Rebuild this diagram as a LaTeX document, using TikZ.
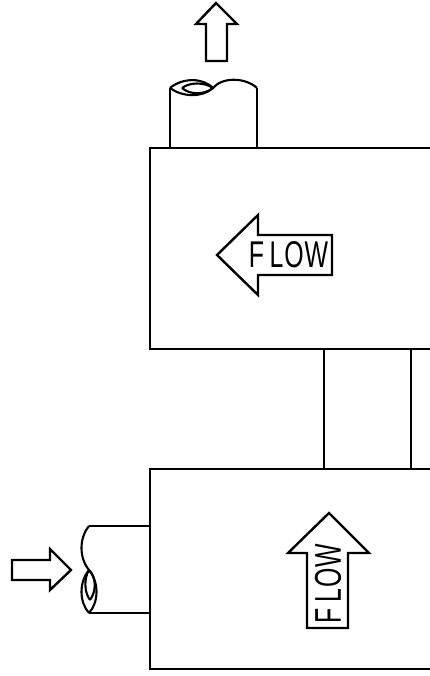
\documentclass[tikz,border=0pt]{standalone}
\usepackage{graphicx}
\usepackage{fontspec}
\setmainfont{Liberation Sans}
\tikzset{
  ln/.style={draw=black,line width=2.4pt,line join=miter,miter limit=10},
  thinln/.style={draw=black,line width=2.1pt},
  flowtext/.style={inner sep=0pt,outer sep=0pt,text=black}
}
\newcommand{\flowword}{\resizebox{79pt}{26pt}{F\kern0.22em L\kern0.04em O\kern0.03em W}}
\begin{document}
\begin{tikzpicture}[x=1pt,y=-1pt]
\useasboundingbox (0,0) rectangle (429,676);
% boxes
\draw[ln] (432,148) -- (150,148) -- (150,349) -- (432,349);
\draw[ln] (432,469) -- (150,469) -- (150,669) -- (432,669);
% connector between boxes
\draw[ln] (324,349) -- (324,469);
\draw[ln] (411,349) -- (411,469);
% top pipe
\draw[ln] (170,148) -- (170,88);
\draw[ln] (257,148) -- (257,88);
\draw[thinln] (170,88) .. controls (182,78) and (202,77) .. (213,88)
  .. controls (222,77) and (245,77) .. (257,88);
\draw[thinln] (170,88) .. controls (182,97) and (202,98) .. (213,88);
\draw[thinln] (182,88) .. controls (190,82) and (204,82) .. (213,88);
\draw[thinln] (182,88) .. controls (190,95) and (204,95) .. (213,88);
% left pipe
\draw[ln] (150,526) -- (89,526);
\draw[ln] (150,613) -- (89,613);
\draw[thinln] (89,526) .. controls (79,538) and (79,558) .. (89,570)
  .. controls (99,582) and (99,602) .. (89,613);
\draw[thinln] (89,570) .. controls (79,582) and (79,602) .. (89,613);
\draw[thinln] (89,570) .. controls (84,578) and (84,592) .. (90,600);
\draw[thinln] (89,570) .. controls (97,578) and (96,592) .. (90,600);
% flow direction arrows outside
\draw[ln] (216,3) -- (237,24) -- (227,24) -- (227,61) -- (206,61) -- (206,24) -- (196,24) -- cycle;
\draw[ln] (71,570) -- (50,549) -- (50,560) -- (12,560) -- (12,580) -- (50,580) -- (50,590) -- cycle;
% labelled arrows
\draw[ln] (217,255) -- (258,215) -- (258,235) -- (332,235) -- (332,275) -- (258,275) -- (258,295) -- cycle;
\draw[ln] (329,513) -- (369,553) -- (348,553) -- (348,628) -- (307,628) -- (307,553) -- (288,553) -- cycle;
\node[flowtext] (flowA) at (288.5,254.5) {\flowword};
\node[flowtext,rotate=90] (flowB) at (328,583.5) {\flowword};
\end{tikzpicture}
\end{document}
